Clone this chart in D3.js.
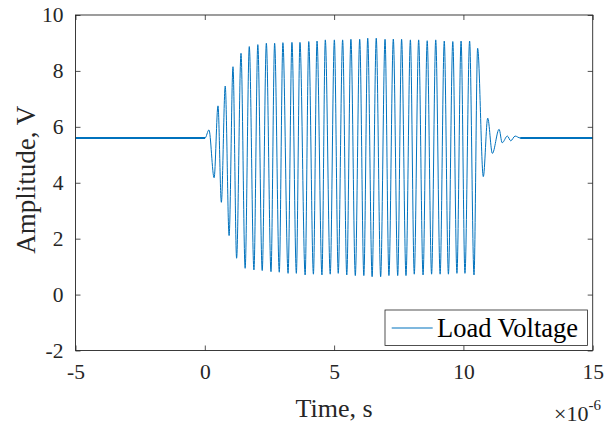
<!DOCTYPE html>
<html><head><meta charset="utf-8">
<script src="https://cdn.jsdelivr.net/npm/d3@7"></script>
<style>
body{margin:0;background:#fff}
svg{display:block}
</style>
</head><body>
<svg id="c" width="605" height="428"></svg>
<script>
// time in microseconds (axis shows ×10^-6 s)
const timeUs = [-5, 0.01, 0.16,
  0.36,0.51,0.64,0.79,0.94,1.09,1.23,1.40,1.56,1.72,
  1.90,2.05,2.22,2.38,2.56,2.70,2.88,3.02,3.22,3.37,
  3.54,3.68,3.88,4.02,4.20,4.34,4.53,4.66,4.85,5.01,
  5.16,5.33,5.49,5.65,5.82,5.99,6.15,6.30,6.47,6.63,
  6.80,6.97,7.12,7.29,7.46,7.61,7.78,7.95,8.10,8.27,
  8.44,8.60,8.77,8.93,9.10,9.26,9.42,9.59,9.75,9.91,
  10.06,10.24,10.41,10.55,10.77,10.94,11.12,11.38,11.50,11.70,
  11.83,12.00,12.20,15];
const voltage = [5.6, 5.6, 5.89,
  4.18,6.75,3.30,7.46,2.11,8.15,1.30,8.63,0.94,8.87,
  0.88,8.94,0.86,8.99,0.82,8.99,0.80,9.01,0.76,9.02,
  0.76,9.02,0.70,9.05,0.73,9.07,0.70,9.11,0.73,9.11,
  0.76,9.11,0.70,9.13,0.68,9.13,0.68,9.17,0.64,9.17,
  0.64,9.13,0.68,9.14,0.68,9.13,0.68,9.11,0.73,9.11,
  0.70,9.08,0.73,9.11,0.73,9.07,0.73,9.05,0.76,9.07,
  0.76,9.07,0.70,8.81,4.22,6.31,5.05,5.91,5.43,5.67,
  5.50,5.67,5.6,5.6];
const xTicks = [-5, 0, 5, 10, 15];
const yTicks = [-2, 0, 2, 4, 6, 8, 10];
const seriesName = "Load Voltage";
const xLabel = "Time, s";
const yLabel = "Amplitude, V";

const FONT = "Liberation Serif, Times New Roman, Times, serif";
const L = 75.5, R = 592.7, T = 15, B = 350.5;
const color = "#0072BD", axisCol = "#262626";
const svg = d3.select("#c").attr("font-family", FONT);
const x = d3.scaleLinear().domain([-5, 15]).range([L, R]);
const y = d3.scaleLinear().domain([-2, 10]).range([B, T]);

const data = timeUs.map((t, i) => ({t, v: voltage[i]}));
const line = d3.line().x(d => x(d.t)).y(d => y(d.v)).curve(d3.curveMonotoneX);

svg.append("rect").attr("x", L).attr("y", T).attr("width", R - L).attr("height", B - T).attr("fill", "#fff");
const clip = svg.append("defs").append("clipPath").attr("id", "pc");
clip.append("rect").attr("x", L).attr("y", T).attr("width", R - L).attr("height", B - T);

const g = svg.append("g").attr("clip-path", "url(#pc)");
g.append("path").datum(data).attr("d", line).attr("fill", "none")
  .attr("stroke", color).attr("stroke-width", 1);
// noisy flat baseline appears as a thicker band
g.append("path").datum(data.filter(d => d.t <= 0.01)).attr("d", line).attr("fill", "none")
  .attr("stroke", color).attr("stroke-width", 2.2);
g.append("path").datum(data.filter(d => d.t >= 12.2)).attr("d", line).attr("fill", "none")
  .attr("stroke", color).attr("stroke-width", 2.2);

const fmt = d => String(d);
const tl = 5;
const ax = svg.append("g").attr("transform", `translate(0,${B})`)
  .call(d3.axisBottom(x).tickValues(xTicks).tickFormat(fmt).tickSizeInner(-tl).tickSizeOuter(0).tickPadding(0));
ax.selectAll("text").attr("dy", null).attr("y", 28);
const axT = svg.append("g").attr("transform", `translate(0,${T})`)
  .call(d3.axisTop(x).tickValues(xTicks).tickFormat("").tickSizeInner(-tl).tickSizeOuter(0));
const ay = svg.append("g").attr("transform", `translate(${L},0)`)
  .call(d3.axisLeft(y).tickValues(yTicks).tickFormat(fmt).tickSizeInner(-tl).tickSizeOuter(0).tickPadding(12));
const ayR = svg.append("g").attr("transform", `translate(${R},0)`)
  .call(d3.axisRight(y).tickValues(yTicks).tickFormat("").tickSizeInner(-tl).tickSizeOuter(0));
[ax, axT, ay, ayR].forEach(a => {
  a.attr("font-family", FONT).attr("font-size", 21.5);
  a.selectAll("line").attr("stroke", axisCol).attr("stroke-width", 0.8);
  a.select(".domain").remove();
  a.selectAll("text").attr("fill", axisCol);
});
svg.append("rect").attr("x", L).attr("y", T).attr("width", R - L).attr("height", B - T)
  .attr("fill", "none").attr("stroke", axisCol).attr("stroke-width", 0.9);

// labels
svg.append("text").attr("x", (L + R) / 2).attr("y", 417).attr("text-anchor", "middle")
  .attr("font-size", 26).attr("fill", axisCol).text(xLabel);
svg.append("text").attr("transform", `translate(35,${(T + B) / 2 - 3}) rotate(-90)`).attr("text-anchor", "middle")
  .attr("font-size", 27).attr("fill", axisCol).text(yLabel);
// exponent
const ex = svg.append("text").attr("x", 554).attr("y", 421).attr("font-size", 22).attr("fill", axisCol);
ex.append("tspan").text("\u00D710");
ex.append("tspan").attr("dy", -11).attr("font-size", 15).text("-6");

// legend
const lg = svg.append("g");
lg.append("rect").attr("x", 385).attr("y", 310).attr("width", 202.5).attr("height", 35.5)
  .attr("fill", "#fff").attr("stroke", axisCol).attr("stroke-width", 0.8);
lg.append("line").attr("x1", 391.7).attr("x2", 432.7).attr("y1", 328).attr("y2", 328)
  .attr("stroke", color).attr("stroke-width", 1.1);
lg.append("text").attr("x", 437).attr("y", 337).attr("font-size", 26.5).attr("fill", "#000").text(seriesName);
</script>
</body></html>
